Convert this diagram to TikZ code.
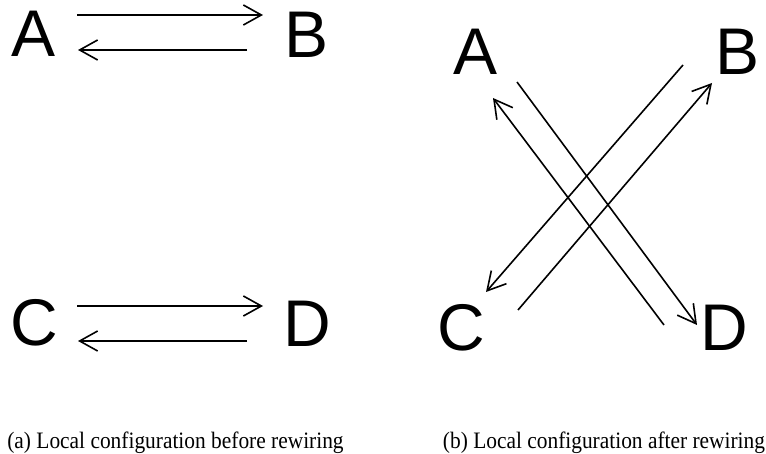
\documentclass[tikz,border=0pt]{standalone}
\usepackage{fontspec}
\setmainfont{Liberation Serif}
\newfontfamily\lettersfont{Liberation Sans}
\usetikzlibrary{arrows.meta,calc}
\begin{document}
\begin{tikzpicture}[x=1pt,y=-1pt,
  letter/.style={inner sep=0pt,font=\lettersfont\fontsize{66}{66}\selectfont},
  edge/.style={line width=1.6pt,-{Straight Barb[length=18pt,width=20pt,line width=1.6pt]}},
  caption/.style={inner sep=0pt,anchor=base,font=\fontsize{21.4}{24}\selectfont}]
\useasboundingbox (0,0) rectangle (766,454);
% left panel
\node[letter] (A) at (34,34) {A};
\node[letter] (B) at (307,35) {B};
\node[letter] (C) at (34,323) {C};
\node[letter] (D) at (307,324) {D};
\draw[edge] ($(A.center)+(43,-19)$) -- ($(B.center)+(-44,-20)$);
\draw[edge] ($(B.center)+(-60,15)$) -- ($(A.center)+(44,16)$);
\draw[edge] ($(C.center)+(43,-17)$) -- ($(D.center)+(-44,-18)$);
\draw[edge] ($(D.center)+(-60,17)$) -- ($(C.center)+(44,18)$);
% right panel
\node[letter] (rA) at (476,52) {A};
\node[letter] (rB) at (738,52) {B};
\node[letter] (rC) at (461,328) {C};
\node[letter] (rD) at (724,328) {D};
\draw[edge] ($(rA.center)+(41,30)$) -- ($(rD.center)+(-27,-3)$);
\draw[edge] ($(rD.center)+(-60,-3)$) -- ($(rA.center)+(17,46)$);
\draw[edge] ($(rB.center)+(-55,13)$) -- ($(rC.center)+(25,-36)$);
\draw[edge] ($(rC.center)+(57,-18)$) -- ($(rB.center)+(-26,31)$);
% captions
\node[caption] (capa) at (175.5,448) {\scalebox{1}[1.1]{(a) Local configuration before rewiring}};
\node[caption] (capb) at (604,448) {\scalebox{1}[1.1]{(b) Local configuration after rewiring}};
\end{tikzpicture}
\end{document}
